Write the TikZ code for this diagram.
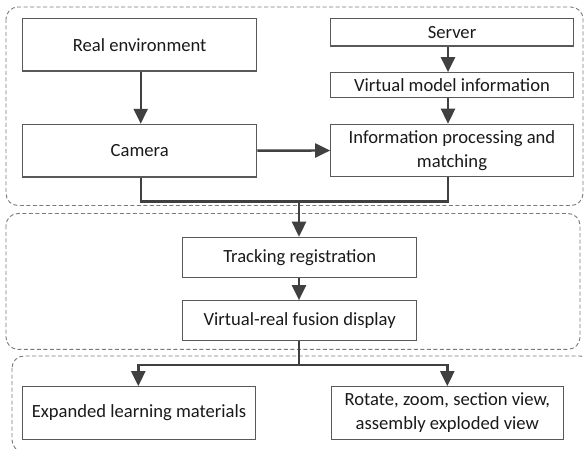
\documentclass[tikz,border=0pt]{standalone}
\usepackage{fontspec}
\setmainfont{Carlito}
\usetikzlibrary{arrows.meta}
\definecolor{boxline}{HTML}{595959}
\definecolor{conn}{HTML}{404040}
\definecolor{dashc}{HTML}{7A7A7A}
\definecolor{txt}{HTML}{1A1A1A}
\tikzset{
  blockbox/.style={draw=boxline, line width=1.1pt, fill=white, inner sep=0pt, align=center,
    font=\fontsize{18.6}{24}\selectfont, text=txt},
  conline/.style={draw=conn, line width=2.4pt},
  conarrow/.style={conline, -{Triangle[width=14pt,length=15pt]}},
  groupbox/.style={draw=dashc, line width=0.9pt, dash pattern=on 4pt off 2.5pt, rounded corners=12pt}
}
\begin{document}
\begin{tikzpicture}[x=1pt,y=-1pt]
\useasboundingbox (0,0) rectangle (584,449);
% group boxes
\draw[groupbox] (6,7) rectangle (583,205.5);
\draw[groupbox] (6,213.5) rectangle (580,349.3);
\draw[groupbox] (12,356) rectangle (592,452);
% nodes
\node[blockbox, minimum width=234pt, minimum height=52.7pt] (real) at (139.7,44.7) {Real environment};
\node[blockbox, minimum width=234pt, minimum height=52.7pt] (cam) at (139.7,150.7) {Camera};
\node[blockbox, minimum width=242.6pt, minimum height=27.7pt] (server) at (452,32.2) {Server};
\node[blockbox, minimum width=242.6pt, minimum height=24.6pt] (vmi) at (452,85) {Virtual model information};
\node[blockbox, minimum width=242.6pt, minimum height=52.4pt] (info) at (452,150.5) {Information processing and\\matching};
\node[blockbox, minimum width=234pt, minimum height=40pt] (track) at (299.7,257.3) {Tracking registration};
\node[blockbox, minimum width=234pt, minimum height=40pt] (vr) at (299.7,320.7) {Virtual-real fusion display};
\node[blockbox, minimum width=232.6pt, minimum height=52.6pt] (exp) at (139,413) {Expanded learning materials};
\node[blockbox, minimum width=232pt, minimum height=52.6pt] (rot) at (447.3,413) {Rotate, zoom, section view,\\assembly exploded view};
% junctions
\coordinate (j1) at (299,201.7);
\coordinate (j2) at (299,365);
% connectors
\draw[conarrow] ([xshift=1pt]real.south) -- ([xshift=1pt]cam.north);
\draw[conarrow] ([xshift=-4pt]server.south) -- ([xshift=-4pt]vmi.north);
\draw[conarrow] ([xshift=-4pt]vmi.south) -- ([xshift=-4pt]info.north);
\draw[conarrow] (cam.east) -- (info.west);
\draw[conline] ([xshift=1pt]cam.south) |- (j1);
\draw[conline] ([xshift=-4pt]info.south) |- (j1);
\draw[conarrow] (j1) -- (track.north -| j1);
\draw[conarrow] (track.south -| j1) -- (vr.north -| j1);
\draw[conline] (vr.south -| j2) -- (j2);
\draw[conarrow] (j2) -| ([xshift=-0.7pt]exp.north);
\draw[conarrow] (j2) -| (rot.north);
\end{tikzpicture}
\end{document}
